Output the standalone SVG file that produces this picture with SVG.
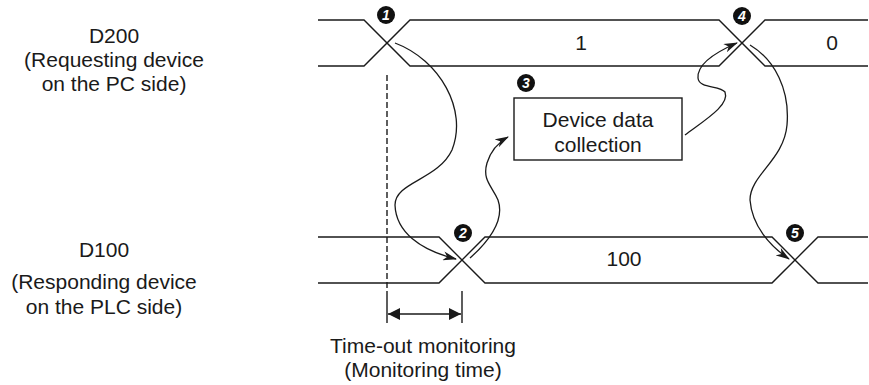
<svg xmlns="http://www.w3.org/2000/svg" width="869" height="385" viewBox="0 0 869 385">
<style>
.t{font-family:"Liberation Sans",Arial,sans-serif;font-size:21px;fill:#1a1a1a;text-anchor:middle}
.sig{fill:none;stroke:#1a1a1a;stroke-width:1.4}
.cur{fill:none;stroke:#1a1a1a;stroke-width:1.3}
.num{font-family:"Liberation Sans",Arial,sans-serif;font-size:14px;font-weight:bold;font-style:italic;fill:#fff;text-anchor:middle}
</style>
<defs>
<marker id="ah" viewBox="0 0 14 9" refX="13" refY="4.5" markerWidth="14" markerHeight="9" markerUnits="userSpaceOnUse" orient="auto">
<path d="M0,0 L14,4.5 L0,9 L4,4.5 z" fill="#1a1a1a"/>
</marker>
<marker id="dim" viewBox="0 0 12 12" refX="12" refY="6" markerWidth="12" markerHeight="12" markerUnits="userSpaceOnUse" orient="auto-start-reverse">
<path d="M0,0 L12,6 L0,12 z" fill="#1a1a1a"/>
</marker>
</defs>
<g id="labels">
<text class="t" x="114" y="43">D200</text>
<text class="t" x="114" y="67">(Requesting device</text>
<text class="t" x="114" y="91">on the PC side)</text>
<text class="t" x="104" y="257">D100</text>
<text class="t" x="104" y="289">(Responding device</text>
<text class="t" x="104" y="314">on the PLC side)</text>
<text class="t" x="423" y="353">Time-out monitoring</text>
<text class="t" x="423" y="377">(Monitoring time)</text>
</g>
<g id="signal-d200">
<path class="sig" d="M318,20 H364 L410,66 H719 L765,20 H868"/>
<path class="sig" d="M318,66 H364 L410,20 H719 L765,66 H868"/>
<text class="t" x="581" y="50">1</text>
<text class="t" x="832" y="50">0</text>
</g>
<g id="signal-d100">
<path class="sig" d="M318,237 H439 L485,283 H772 L818,237 H868"/>
<path class="sig" d="M318,283 H439 L485,237 H772 L818,283 H868"/>
<text class="t" x="624" y="266">100</text>
</g>
<g id="node-collection">
<rect x="514" y="98" width="168" height="62" fill="#fff" stroke="#1a1a1a" stroke-width="1.4"/>
<text class="t" x="598" y="127">Device data</text>
<text class="t" x="598" y="152">collection</text>
</g>
<g id="markers">
<g id="m1"><circle cx="386" cy="15" r="9" fill="#111"/><text class="num" x="386" y="20">1</text></g>
<g id="m2"><circle cx="463" cy="233" r="9" fill="#111"/><text class="num" x="463" y="238">2</text></g>
<g id="m3"><circle cx="526" cy="83" r="9" fill="#111"/><text class="num" x="526" y="88">3</text></g>
<g id="m4"><circle cx="742" cy="16" r="9" fill="#111"/><text class="num" x="742" y="21">4</text></g>
<g id="m5"><circle cx="795" cy="233" r="9" fill="#111"/><text class="num" x="795" y="238">5</text></g>
</g>
<g id="connectors">
<path class="cur" marker-end="url(#ah)" d="M395,43 C440,60 468,110 452,150 C438,180 395,182 395,205 C396,232 420,250 456,259"/>
<path class="cur" marker-end="url(#ah)" d="M470,258 C490,240 505,220 498,200 C492,186 482,180 487,163 C491,150 499,142 508,137"/>
<path class="cur" marker-end="url(#ah)" d="M685,135 C705,120 730,105 725,92 C720,85 699,89 698,78 C697,64 716,52 737,43"/>
<path class="cur" marker-end="url(#ah)" d="M750,45 C775,60 790,90 787,125 C784,160 750,175 750,200 C752,226 770,246 789,259"/>
<path class="sig" stroke-dasharray="6 3" d="M387,75 V290"/>
<path class="sig" d="M387,291 V323 M462,291 V323"/>
<path class="sig" stroke-width="1.6" marker-start="url(#dim)" marker-end="url(#dim)" d="M388,314 H461"/>
</g>
</svg>
